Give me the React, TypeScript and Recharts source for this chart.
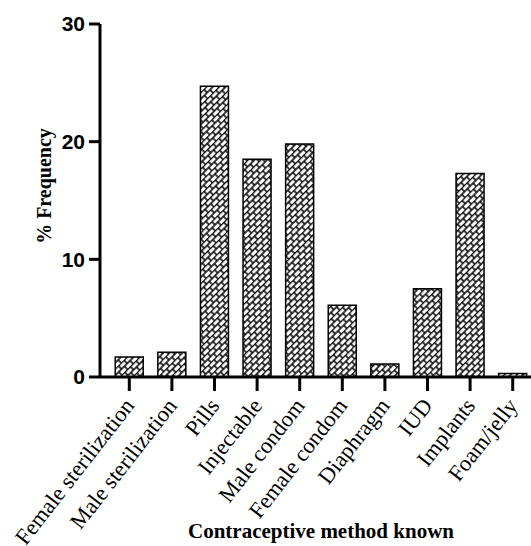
import React from 'react';
import { BarChart, Bar, XAxis, YAxis, Label } from 'recharts';

// contraceptive methods known, % frequency
const methods = [
  'Female sterilization',
  'Male sterilization',
  'Pills',
  'Injectable',
  'Male condom',
  'Female condom',
  'Diaphragm',
  'IUD',
  'Implants',
  'Foam/jelly',
];
const frequency = [1.7, 2.1, 24.7, 18.5, 19.8, 6.1, 1.1, 7.5, 17.3, 0.3];
const yTicks = [0, 10, 20, 30];

const data = methods.map((name, i) => ({ name, value: frequency[i] }));

const SERIF = '"Liberation Serif", "Times New Roman", serif';
const SANS = '"Liberation Sans", Arial, sans-serif';

const MethodTick = (props: any) => {
  const { x, y, payload } = props;
  const ax = x + 6;
  const ay = y + 13;
  return (
    <text
      x={ax}
      y={ay}
      textAnchor="end"
      fontFamily={SERIF}
      fontSize={22.5}
      fill="#000"
      transform={`rotate(-52, ${ax}, ${ay})`}
    >
      {payload.value}
    </text>
  );
};

const App: React.FC = () => {
  return (
    <div style={{ position: 'absolute', left: 0, top: 0, width: 531, height: 546, overflow: 'hidden', background: '#fff' }}>
      <BarChart
        width={534}
        height={546}
        data={data}
        margin={{ top: 24, right: 0, left: 0, bottom: 0 }}
        barCategoryGap="17%"
      >
        <defs>
          <pattern id="brick" width="8" height="9" patternUnits="userSpaceOnUse" patternTransform="rotate(-45)">
            <rect width="8" height="9" fill="#fff" />
            <line x1="0" y1="0.5" x2="8" y2="0.5" stroke="#000" strokeWidth="1.5" />
            <line x1="0" y1="5" x2="8" y2="5" stroke="#000" strokeWidth="1.5" />
            <line x1="1" y1="0.5" x2="1" y2="5" stroke="#000" strokeWidth="1.5" />
            <line x1="5" y1="5" x2="5" y2="9.5" stroke="#000" strokeWidth="1.5" />
          </pattern>
        </defs>
        <XAxis
          dataKey="name"
          interval={0}
          tickSize={14}
          height={169}
          padding={{ left: 8, right: 0 }}
          axisLine={{ stroke: '#000', strokeWidth: 3 }}
          tickLine={{ stroke: '#000', strokeWidth: 3 }}
          tick={<MethodTick />}
        >
          <Label
            value="Contraceptive method known"
            position="insideBottom"
            offset={8}
            dx={4}
            style={{ fontFamily: SERIF, fontSize: 21, fontWeight: 'bold', fill: '#000' }}
          />
        </XAxis>
        <YAxis
          domain={[0, 30]}
          ticks={yTicks}
          width={100}
          tickSize={11}
          tickMargin={4}
          axisLine={{ stroke: '#000', strokeWidth: 3 }}
          tickLine={{ stroke: '#000', strokeWidth: 3 }}
          tick={{ fontFamily: SANS, fontSize: 21, fontWeight: 'bold', fill: '#000' }}
        >
          <Label
            content={() => (
              <text
                x={51}
                y={186}
                textAnchor="middle"
                fontFamily={SERIF}
                fontSize={20}
                fontWeight="bold"
                fill="#000"
                transform="rotate(-90, 51, 186)"
              >
                % Frequency
              </text>
            )}
          />
        </YAxis>
        <Bar dataKey="value" fill="url(#brick)" stroke="#000" strokeWidth={1.5} isAnimationActive={false} />
      </BarChart>
    </div>
  );
};

export default App;
